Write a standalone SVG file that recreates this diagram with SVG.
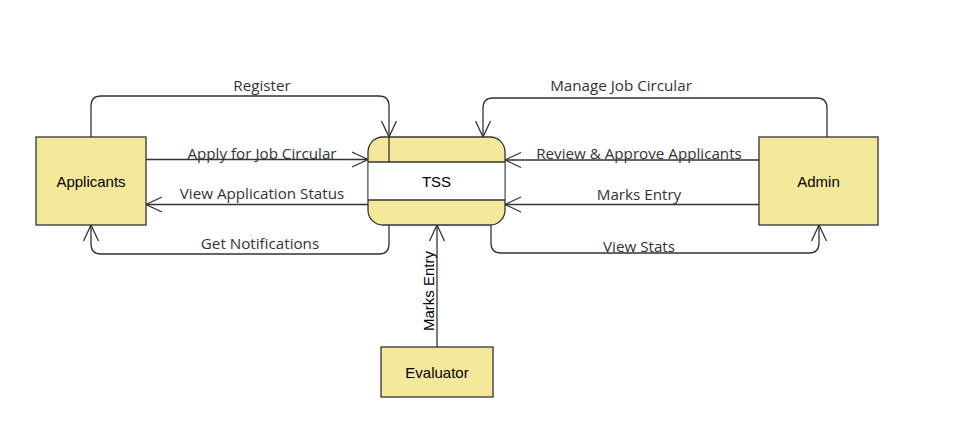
<svg xmlns="http://www.w3.org/2000/svg" width="973" height="425" viewBox="0 0 973 425">
<defs>
<style>
.box{fill:#f4e99b;stroke:#333;stroke-width:1.3}
.ln{fill:none;stroke:#333;stroke-width:1.3}
.edge{fill:none;stroke:#333;stroke-width:1.3;marker-end:url(#arr)}
.nt{font-family:"Liberation Sans",Arial,sans-serif;font-size:15px;fill:#000;text-anchor:middle;dominant-baseline:central}
.lb{font-family:"Open Sans","Noto Sans",sans-serif;font-size:15.2px;fill:#333;text-anchor:middle;dominant-baseline:central}
</style>
<marker id="arr" markerUnits="userSpaceOnUse" markerWidth="20" markerHeight="20" viewBox="-18 -10 20 20" refX="0" refY="0" orient="auto">
<path d="M-16,-7.5 L0,0 L-16,7.5" fill="none" stroke="#333" stroke-width="1.3"/>
</marker>
</defs>
<rect width="973" height="425" fill="#fff"/>
<g id="connectors">
<path class="edge" d="M91,137 V106 Q91,96 101,96 H379 Q389,96 389,106 V137"/>
<path class="edge" d="M146,159.5 H368"/>
<path class="edge" d="M368,204.5 H146"/>
<path class="edge" d="M389,225 V244 Q389,254 379,254 H101 Q91,254 91,244 V225"/>
<path class="edge" d="M827,137 V108 Q827,98 817,98 H493 Q483,98 483,108 V137"/>
<path class="edge" d="M759,160 H505"/>
<path class="edge" d="M759,204.5 H505"/>
<path class="edge" d="M491,225 V243 Q491,253 501,253 H809 Q819,253 819,243 V225"/>
<path class="edge" d="M437,347 V225"/>
<text class="lb" x="262" y="85">Register</text>
<text class="lb" x="262" y="153">Apply for Job Circular</text>
<text class="lb" x="262" y="193">View Application Status</text>
<text class="lb" x="260" y="243">Get Notifications</text>
<text class="lb" x="621" y="85">Manage Job Circular</text>
<text class="lb" x="639" y="153">Review &amp; Approve Applicants</text>
<text class="lb" x="639" y="194">Marks Entry</text>
<text class="lb" x="639" y="246">View Stats</text>
<text class="nt" transform="translate(428,291) rotate(-90)">Marks Entry</text>
</g>
<g id="applicants">
<rect class="box" x="36" y="137" width="110" height="88"/>
<text class="nt" x="91" y="181">Applicants</text>
</g>
<g id="tss">
<rect class="box" x="368" y="137" width="137" height="88" rx="15" ry="15"/>
<rect x="368.65" y="162" width="135.7" height="38" fill="#fff"/>
<path class="ln" d="M368,162 H505 M368,200 H505 M389,137 V162"/>
<text class="nt" x="436.5" y="181">TSS</text>
</g>
<g id="admin">
<rect class="box" x="759" y="137" width="119" height="88"/>
<text class="nt" x="818.5" y="181">Admin</text>
</g>
<g id="evaluator">
<rect class="box" x="381" y="347" width="112" height="50"/>
<text class="nt" x="437" y="372">Evaluator</text>
</g>
</svg>
